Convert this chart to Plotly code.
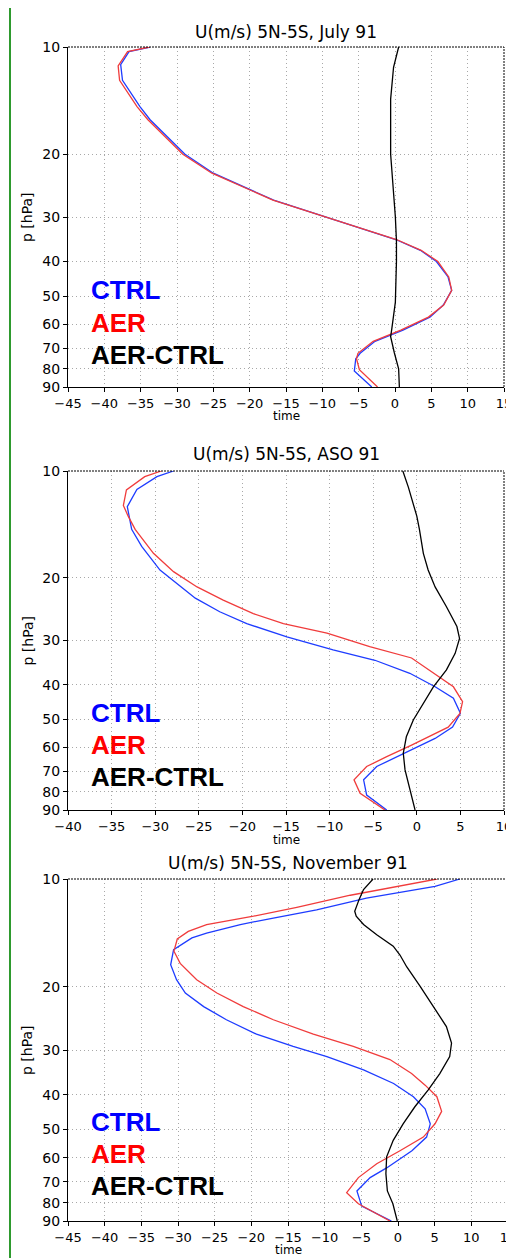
import plotly.graph_objects as go

# page has an 8 px body margin; figure sized to fill the rest of the window
OFF = 8
W, H = 514 - OFF, 1258 - OFF

P_TICKS = [10, 20, 30, 40, 50, 60, 70, 80, 90]

TITLES = ["U(m/s) 5N-5S, July 91", "U(m/s) 5N-5S, ASO 91", "U(m/s) 5N-5S, November 91"]
X_RANGES = [[-45, 15], [-40, 10], [-45, 15]]
SERIES_NAMES = ["CTRL", "AER", "AER-CTRL"]

# ---- Panel 1: July 91 ----
jul_ctrl_p = [10, 10.3, 11.2, 12.4, 14.7, 16.0, 20, 22.6, 26.9, 30, 32.6, 34.7, 37.2, 40, 44.2, 48.2, 53, 57.3, 62.3, 67, 72.4, 75, 81.2, 90]
jul_ctrl_u = [-33.7, -36.6, -37.75, -37.5, -35.1, -33.7, -28.9, -25.0, -16.7, -9.4, -3.9, 0.1, 3.5, 5.7, 7.3, 7.8, 6.65, 4.8, 1.1, -2.75, -4.8, -5.4, -5.6, -3.2]
jul_aer_p = [10, 10.3, 11.3, 12.4, 14.7, 16.0, 20, 22.6, 26.9, 30, 32.6, 34.7, 37.2, 40, 44.2, 48.2, 53, 57.3, 62.3, 67, 72.4, 75, 80.5, 90]
jul_aer_u = [-33.8, -36.8, -38.1, -37.9, -35.5, -34.0, -29.2, -25.2, -16.8, -9.4, -3.8, 0.2, 3.6, 5.9, 7.4, 7.8, 6.7, 4.6, 0.8, -3.0, -5.1, -5.3, -4.9, -2.4]
jul_diff_p = [10, 11.4, 14, 20, 30, 35, 40, 52, 62, 65, 72, 80, 90]
jul_diff_u = [0.5, -0.2, -0.6, -0.6, 0.05, 0.2, 0.2, 0.05, -0.45, -0.6, -0.1, 0.5, 0.6]

# ---- Panel 2: ASO 91 ----
aso_ctrl_p = [10, 10.37, 11.27, 12.6, 14.6, 16.3, 19.0, 22.8, 24.9, 26.9, 29.3, 31.9, 34.1, 37.1, 40.5, 43.6, 48.1, 52.6, 56.6, 62.3, 67.9, 74.0, 81.7, 90]
aso_ctrl_u = [-27.9, -29.8, -32.1, -33.2, -32.7, -31.55, -29.45, -25.4, -22.6, -19.5, -14.9, -9.6, -4.8, -0.8, 2.1, 4.2, 5.0, 4.1, 2.1, -1.5, -4.6, -6.1, -5.75, -3.45]
aso_aer_p = [10, 10.37, 11.3, 12.5, 13.4, 14.6, 17.05, 19.2, 21.2, 23.1, 25.2, 26.9, 28.6, 31.2, 33.6, 37.5, 40.5, 44.6, 48.1, 52.6, 54.9, 59.1, 63.7, 67.9, 74.0, 80.8, 90]
aso_aer_u = [-29.3, -31.2, -33.3, -33.65, -33.1, -32.3, -30.2, -27.9, -25.2, -22.2, -18.75, -15.3, -10.3, -5.4, -0.6, 2.3, 4.2, 5.25, 4.95, 3.6, 2.1, -0.6, -3.45, -5.75, -7.2, -6.5, -3.65]
aso_diff_p = [10, 11.1, 13.4, 14.6, 17.05, 19.0, 21.2, 24.1, 27.4, 29.6, 32.6, 36.3, 40.5, 45.0, 50.2, 56.0, 62.3, 69.4, 77.5, 84.2, 90]
aso_diff_u = [-1.6, -0.97, 0.0, 0.3, 0.75, 1.3, 2.1, 3.4, 4.6, 4.9, 4.4, 3.4, 1.9, 0.75, -0.4, -1.2, -1.55, -1.35, -0.85, -0.45, -0.2]

# ---- Panel 3: November 91 ----
nov_ctrl_p = [10, 10.48, 11.3, 12.2, 12.85, 13.4, 14.15, 14.6, 15.75, 17.35, 19.1, 20.8, 22.7, 24.7, 27.1, 29.3, 31.3, 34.1, 37.2, 40.5, 43.8, 48.2, 52.5, 57.3, 64.0, 68.1, 74.2, 81.8, 90]
nov_ctrl_u = [8.45, 5.05, -4.3, -11.1, -17.0, -21.5, -26.1, -28.1, -30.6, -31.0, -30.2, -29.0, -26.5, -23.4, -19.3, -14.3, -9.7, -4.7, -0.6, 2.1, 3.7, 4.4, 3.9, 1.9, -1.55, -3.8, -5.6, -4.95, -0.9]
nov_aer_p = [10, 10.25, 11.1, 12.0, 12.7, 13.4, 14.0, 14.7, 15.9, 17.2, 19.1, 20.8, 22.7, 24.7, 27.1, 29.3, 31.9, 34.9, 37.6, 40.5, 44.5, 48.2, 52.5, 57.3, 62.3, 68.1, 75.0, 80.6, 90]
nov_aer_u = [5.3, 2.55, -6.5, -13.8, -19.7, -26.1, -28.6, -30.1, -30.55, -29.7, -27.45, -24.7, -21.1, -17.0, -11.55, -6.1, -1.1, 1.85, 3.7, 5.3, 5.95, 5.05, 3.45, 0.27, -2.9, -5.4, -7.0, -5.4, -1.1]
nov_diff_p = [10, 10.7, 11.4, 12.3, 12.7, 13.4, 14.3, 15.4, 16.3, 17.6, 19.9, 22.7, 25.8, 28.7, 31.3, 34.9, 38.8, 43.2, 48.2, 53.6, 59.6, 66.4, 74.2, 80.6, 90]
nov_diff_u = [-3.4, -4.7, -5.3, -5.9, -5.7, -4.7, -2.9, -0.65, 0.27, 1.2, 3.0, 4.8, 6.6, 7.3, 7.05, 5.7, 4.1, 2.3, 0.7, -0.65, -1.55, -1.65, -1.45, -0.7, -0.1]

PANELS = [
    [(jul_ctrl_u, jul_ctrl_p), (jul_aer_u, jul_aer_p), (jul_diff_u, jul_diff_p)],
    [(aso_ctrl_u, aso_ctrl_p), (aso_aer_u, aso_aer_p), (aso_diff_u, aso_diff_p)],
    [(nov_ctrl_u, nov_ctrl_p), (nov_aer_u, nov_aer_p), (nov_diff_u, nov_diff_p)],
]

LINE_COLORS = ["#1e3cff", "#f03c3c", "#000000"]
TEXT_COLORS = ["#0000ff", "#ff0000", "#000000"]

# layout geometry in window pixels (left, right, top, bottom of each plot area)
BOXES = [(68, 504, 47, 387), (68, 504, 471, 810), (68, 508, 879, 1221)]
TITLE_Y = [32, 454, 863]
XTITLE_Y = [416, 840, 1250]
LEG_Y = [[290, 323, 355], [713, 745, 777], [1122, 1154, 1186]]

def fx(px):
    return (px - OFF) / W

def fy(py):
    return 1 - (py - OFF) / H

TICK_FONT = dict(family="DejaVu Sans", size=13, color="black")
GRID = dict(showgrid=True, gridcolor="#a8a8a8", griddash="1px,3px", gridwidth=1)

fig = go.Figure()
annotations = []
shapes = []

for i in range(3):
    xa = "x" if i == 0 else f"x{i+1}"
    ya = "y" if i == 0 else f"y{i+1}"
    for j, (u, p) in enumerate(PANELS[i]):
        fig.add_trace(go.Scatter(
            x=u, y=p, mode="lines", name=SERIES_NAMES[j],
            line=dict(color=LINE_COLORS[j], width=1.3),
            xaxis=xa, yaxis=ya, showlegend=False,
        ))
    l, r, t, b = BOXES[i]
    xkey = "xaxis" if i == 0 else f"xaxis{i+1}"
    ykey = "yaxis" if i == 0 else f"yaxis{i+1}"
    fig.update_layout(**{
        xkey: dict(
            domain=[fx(l), fx(r)], anchor=ya, range=X_RANGES[i], automargin=False,
            dtick=5, tick0=0, zeroline=False, showline=True, linecolor="black",
            linewidth=1, ticks="outside", ticklen=4, tickcolor="black",
            tickfont=TICK_FONT, ticklabeloverflow="allow", **GRID,
        ),
        ykey: dict(
            domain=[fy(b), fy(t)], anchor=xa, type="log", automargin=False,
            range=[1.9542425094, 1.0], tickvals=P_TICKS,
            ticktext=[str(v) for v in P_TICKS],
            zeroline=False, showline=True, linecolor="black", linewidth=1,
            ticks="outside", ticklen=4, tickcolor="black",
            tickfont=dict(family="DejaVu Sans", size=14, color="black"), **GRID,
        ),
    })
    # dotted top and right frame
    shapes.append(dict(type="line", xref="paper", yref="paper",
                       x0=fx(l), x1=fx(r), y0=fy(t), y1=fy(t),
                       line=dict(color="black", width=1, dash="2px,1px")))
    shapes.append(dict(type="line", xref="paper", yref="paper",
                       x0=fx(r), x1=fx(r), y0=fy(b), y1=fy(t),
                       line=dict(color="black", width=1, dash="2px,1px")))
    # title
    annotations.append(dict(text=TITLES[i], xref="paper", yref="paper",
                            x=fx((l + r) / 2), y=fy(TITLE_Y[i]),
                            xanchor="center", yanchor="middle", showarrow=False,
                            font=dict(family="DejaVu Sans", size=17, color="black")))
    # x title
    annotations.append(dict(text="time", xref="paper", yref="paper",
                            x=fx((l + r) / 2), y=fy(XTITLE_Y[i]),
                            xanchor="center", yanchor="middle", showarrow=False,
                            font=dict(family="DejaVu Sans", size=12, color="black")))
    # y title
    annotations.append(dict(text="p [hPa]", xref="paper", yref="paper",
                            x=fx(27), y=fy((t + b) / 2), textangle=-90,
                            xanchor="center", yanchor="middle", showarrow=False,
                            font=dict(family="DejaVu Sans", size=14, color="black")))
    # legend texts
    for j in range(3):
        annotations.append(dict(text=f"<b>{SERIES_NAMES[j]}</b>", xref="paper", yref="paper",
                                x=fx(89), y=fy(LEG_Y[i][j]),
                                xanchor="left", yanchor="middle", showarrow=False,
                                font=dict(family="Liberation Sans", size=26,
                                          color=TEXT_COLORS[j])))

# green outer border (left and top)
shapes.append(dict(type="line", xref="paper", yref="paper",
                   x0=fx(10), x1=fx(10), y0=0, y1=fy(7),
                   line=dict(color="#2e9a2e", width=2)))
shapes.append(dict(type="line", xref="paper", yref="paper",
                   x0=fx(10), x1=1, y0=fy(7), y1=fy(7),
                   line=dict(color="#2e9a2e", width=2)))

fig.update_layout(
    width=W, height=H, autosize=False,
    margin=dict(l=0, r=0, t=0, b=0, pad=0),
    paper_bgcolor="white", plot_bgcolor="white",
    annotations=annotations, shapes=shapes,
    showlegend=False,
)

fig.write_html("out.html")
